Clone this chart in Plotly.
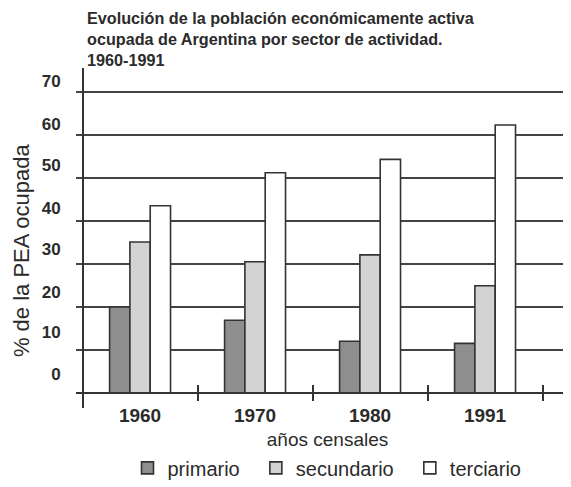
import plotly.graph_objects as go

years = ["1960", "1970", "1980", "1991"]
primario = [20.1, 17.0, 12.1, 11.6]
secundario = [35.2, 30.6, 32.2, 25.0]
terciario = [43.6, 51.3, 54.4, 62.4]
y_labels = ["0", "10", "20", "30", "40", "50", "60", "70"]
y_label_pos = [4.5, 14.2, 23.5, 33.6, 43.0, 53.1, 62.7, 72.5]
grid_vals = [10, 20, 30, 40, 50, 60, 70]

xpos = list(range(len(years)))
FONT = "Liberation Sans, Arial, sans-serif"
TXT = "#2b2b2b"
LINE = "#333333"
NB = "\u00a0\u00a0"

fig = go.Figure()
for name, vals, col in [("primario" + NB, primario, "#8e8e8e"),
                        ("secundario" + NB, secundario, "#d3d3d3"),
                        ("terciario", terciario, "#ffffff")]:
    fig.add_trace(go.Bar(x=xpos, y=vals, name=name, marker=dict(color=col, line=dict(color=LINE, width=1.6))))

baseline_pos = (408 - 393.3) / 340

fig.update_layout(
    template="none",
    width=571, height=487,
    margin=dict(l=68, r=0, t=60, b=87, autoexpand=False),
    paper_bgcolor="white", plot_bgcolor="white",
    barmode="group", bargap=0.47, bargroupgap=0,
    font=dict(family=FONT, color=TXT, size=17),
    title=dict(text="<b>Evolución de la población económicamente activa<br>ocupada de Argentina por sector de actividad.<br>1960-1991</b>",
               x=79/571, xanchor="left", xref="container", y=1-16/487, yanchor="top", yref="container",
               font=dict(family=FONT, size=16.2, color=TXT)),
    xaxis=dict(range=[-0.557, 3.817], tickvals=xpos, ticktext=["<b>%s</b>" % y for y in years],
               anchor="free", position=baseline_pos, showline=True, linecolor=LINE, linewidth=2,
               ticks="", showgrid=False, zeroline=False, ticklabelstandoff=5, automargin=False,
               tickfont=dict(size=19),
               title=dict(text="años censales", standoff=7, font=dict(size=19))),
    xaxis2=dict(overlaying="x", matches="x", anchor="free", position=baseline_pos, automargin=False,
                tickvals=[0.5, 1.5, 2.5, 3.5], ticks="outside", ticklen=7, tickwidth=2, tickcolor=LINE,
                showticklabels=False, showgrid=False, zeroline=False, showline=False),
    xaxis3=dict(overlaying="x", matches="x", anchor="free", position=baseline_pos, automargin=False,
                tickvals=[0.5, 1.5, 2.5, 3.5], ticks="inside", ticklen=8, tickwidth=2, tickcolor=LINE,
                showticklabels=False, showgrid=False, zeroline=False, showline=False),
    yaxis=dict(range=[-3.42, 75.65], tickvals=y_label_pos, ticktext=["<b>%s</b>" % t for t in y_labels],
               anchor="free", position=7/503, showline=True, linecolor=LINE, linewidth=2,
               ticks="", showgrid=False, zeroline=False, ticklabelstandoff=18, automargin=False,
               tickfont=dict(size=17)),
    yaxis2=dict(overlaying="y", matches="y", tickvals=grid_vals, showgrid=True, gridcolor="#444444",
                gridwidth=1.8, showticklabels=False, ticks="", zeroline=False, showline=False, automargin=False),
    legend=dict(orientation="h", x=0.499, xanchor="center", y=-0.176, yanchor="middle",
                font=dict(size=20), itemwidth=30, traceorder="normal", bgcolor="rgba(0,0,0,0)"),
    annotations=[dict(text="% de la PEA ocupada", textangle=-90, xref="paper", yref="paper",
                      x=-0.107, y=0.465, xanchor="center", yanchor="middle", showarrow=False,
                      font=dict(size=22, color=TXT))],
)
fig.add_trace(go.Scatter(x=[0], y=[0], xaxis="x2", yaxis="y2", mode="markers",
                         marker=dict(opacity=0), showlegend=False, hoverinfo="skip"))
fig.add_trace(go.Scatter(x=[0], y=[0], xaxis="x3", yaxis="y", mode="markers",
                         marker=dict(opacity=0), showlegend=False, hoverinfo="skip"))

fig.write_html("out.html")
